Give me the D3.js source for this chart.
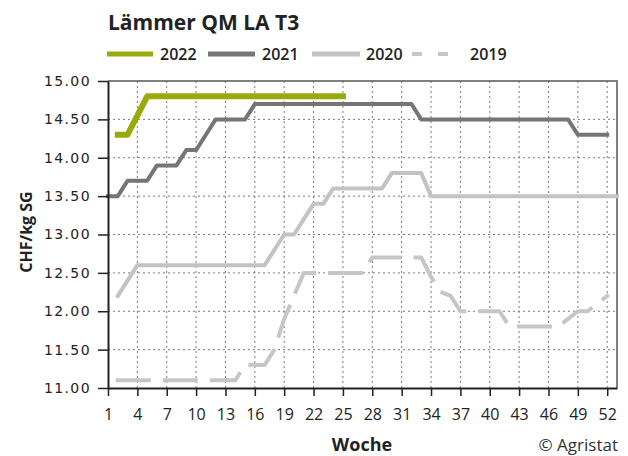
<!DOCTYPE html>
<html lang="de">
   <head>
      <meta charset="UTF-8">
      <title>Lämmer QM LA T3</title>
      <style>
         body { margin: 0; background: #fff; }
         text { font-family: "Open Sans", sans-serif; fill: #222; }
      </style>
   </head>
   <body>
      <svg width="628" height="456"></svg>
      <script src="https://d3js.org/d3.v7.min.js"></script>
      <script>
         // Wochenpreise CHF/kg SG, null = keine Notierung
         var v2022 = [null, 14.3, 14.3, 14.55, 14.8, 14.8, 14.8, 14.8, 14.8, 14.8,
                      14.8, 14.8, 14.8, 14.8, 14.8, 14.8, 14.8, 14.8, 14.8, 14.8,
                      14.8, 14.8, 14.8, 14.8, 14.8];
         var v2021 = [13.5, 13.5, 13.7, 13.7, 13.7, 13.9, 13.9, 13.9, 14.1, 14.1,
                      14.3, 14.5, 14.5, 14.5, 14.5, 14.7, 14.7, 14.7, 14.7, 14.7,
                      14.7, 14.7, 14.7, 14.7, 14.7, 14.7, 14.7, 14.7, 14.7, 14.7,
                      14.7, 14.7, 14.5, 14.5, 14.5, 14.5, 14.5, 14.5, 14.5, 14.5,
                      14.5, 14.5, 14.5, 14.5, 14.5, 14.5, 14.5, 14.5, 14.3, 14.3,
                      14.3, 14.3];
         var v2020 = [null, 12.2, 12.4, 12.6, 12.6, 12.6, 12.6, 12.6, 12.6, 12.6,
                      12.6, 12.6, 12.6, 12.6, 12.6, 12.6, 12.6, 12.8, 13.0, 13.0,
                      13.2, 13.4, 13.4, 13.6, 13.6, 13.6, 13.6, 13.6, 13.6, 13.8,
                      13.8, 13.8, 13.8, 13.5, 13.5, 13.5, 13.5, 13.5, 13.5, 13.5,
                      13.5, 13.5, 13.5, 13.5, 13.5, 13.5, 13.5, 13.5, 13.5, 13.5,
                      13.5, 13.5, 13.5];
         var v2019 = [null, 11.1, 11.1, 11.1, 11.1, 11.1, 11.1, 11.1, 11.1, 11.1,
                      11.1, 11.1, 11.1, 11.1, 11.3, 11.3, 11.3, 11.5, 11.9, 12.2,
                      12.5, 12.5, 12.5, 12.5, 12.5, 12.5, 12.5, 12.7, 12.7, 12.7,
                      12.7, 12.7, 12.7, 12.45, 12.25, 12.2, 12.0, 12.0, 12.0, 12.0,
                      12.0, 11.8, 11.8, 11.8, 11.8, 11.8, 11.8, 11.9, 12.0, 12.0,
                      12.1, 12.2];

         var xTicks = [1, 4, 7, 10, 13, 16, 19, 22, 25, 28, 31, 34, 37, 40, 43, 46, 49, 52];
         var yTicks = [11, 11.5, 12, 12.5, 13, 13.5, 14, 14.5, 15];

         var series = [
            {name: "2019", values: v2019, color: "#c6c6c6", width: 4, dash: "31,16"},
            {name: "2020", values: v2020, color: "#c3c3c3", width: 4, dash: null},
            {name: "2021", values: v2021, color: "#757575", width: 4, dash: null},
            {name: "2022", values: v2022, color: "#9aaa0c", width: 6, dash: null}
         ];

         var svg = d3.select("svg");
         var pLeft = 108, pRight = 617, pTop = 81, pBottom = 388;

         var x = d3.scaleLinear().domain([1, 53]).range([pLeft, pRight]);
         var y = d3.scaleLinear().domain([11, 15]).range([pBottom, pTop]);

         // Titel
         svg.append("text")
            .attr("x", 108).attr("y", 30)
            .style("font-size", "21px").style("font-weight", "bold")
            .text("Lämmer QM LA T3");

         // Legende
         var legend = [
            {name: "2022", color: "#9aaa0c", x1: 107, x2: 153, tx: 160, dash: null, w: 5},
            {name: "2021", color: "#757575", x1: 208, x2: 255, tx: 262, dash: null, w: 5},
            {name: "2020", color: "#c3c3c3", x1: 312, x2: 360, tx: 366, dash: null, w: 5},
            {name: "2019", color: "#c6c6c6", x1: 414, x2: 446, tx: 470, dash: "6,20", w: 4}
         ];
         var lg = svg.append("g").attr("class", "legend");
         lg.selectAll("line").data(legend).enter().append("line")
            .attr("x1", d => d.x1).attr("x2", d => d.x2)
            .attr("y1", 54).attr("y2", 54)
            .attr("stroke", d => d.color)
            .attr("stroke-width", d => d.w)
            .attr("stroke-linecap", d => d.dash ? "square" : "butt")
            .attr("stroke-dasharray", d => d.dash);
         lg.selectAll("text").data(legend).enter().append("text")
            .attr("x", d => d.tx).attr("y", 60)
            .style("font-size", "16px").style("font-weight", 600)
            .text(d => d.name);

         // Gitter
         var grid = svg.append("g").attr("class", "grid");
         grid.selectAll(".h").data(yTicks.filter(d => d > 11 && d < 15)).enter().append("line")
            .attr("x1", pLeft).attr("x2", pRight)
            .attr("y1", d => y(d)).attr("y2", d => y(d))
            .attr("stroke", "#7a7a7a").attr("stroke-dasharray", "2,3");
         grid.selectAll(".v").data(xTicks.filter(d => d > 1)).enter().append("line")
            .attr("x1", d => x(d)).attr("x2", d => x(d))
            .attr("y1", pTop).attr("y2", pBottom)
            .attr("stroke", "#7a7a7a").attr("stroke-dasharray", "2,3");

         // Rahmen oben / rechts
         svg.append("path")
            .attr("d", `M${pLeft},${pTop}H${pRight}V${pBottom}`)
            .attr("fill", "none").attr("stroke", "#555").attr("stroke-width", 1.5);

         // Linien
         var line = d3.line()
            .defined(d => d != null)
            .x((d, i) => x(i + 1))
            .y(d => y(d));

         svg.append("g").selectAll("path").data(series).enter().append("path")
            .attr("d", d => line(d.values))
            .attr("fill", "none")
            .attr("stroke", d => d.color)
            .attr("stroke-width", d => d.width)
            .attr("stroke-linecap", "square")
            .attr("stroke-linejoin", "round")
            .attr("stroke-dasharray", d => d.dash);

         // Achsen
         var yAxis = svg.append("g")
            .attr("transform", `translate(${pLeft},0)`)
            .call(d3.axisLeft(y).tickValues(yTicks).tickFormat(d3.format(".2f"))
               .tickSize(10).tickSizeOuter(0).tickPadding(7));
         yAxis.selectAll("text")
            .style("font-family", "'DejaVu Sans', sans-serif")
            .style("font-size", "14px").style("letter-spacing", "1.4px")
            .style("fill", "#222");

         var xAxis = svg.append("g")
            .attr("transform", `translate(0,${pBottom})`)
            .call(d3.axisBottom(x).tickValues(xTicks).tickFormat(d3.format("d"))
               .tickSize(8).tickSizeOuter(0).tickPadding(13));
         xAxis.selectAll("text")
            .style("font-size", "16px").style("fill", "#222");

         [yAxis, xAxis].forEach(function(a) {
            a.select(".domain").attr("stroke", "#222").attr("stroke-width", 2);
            a.selectAll(".tick line").attr("stroke", "#222").attr("stroke-width", 1.5);
         });

         // Achsentitel
         svg.append("text")
            .attr("transform", "translate(32,232) rotate(-90)")
            .attr("text-anchor", "middle")
            .style("font-size", "16px").style("font-weight", "bold")
            .text("CHF/kg SG");

         svg.append("text")
            .attr("x", 362).attr("y", 451)
            .attr("text-anchor", "middle")
            .style("font-size", "18px").style("font-weight", "bold")
            .text("Woche");

         svg.append("text")
            .attr("x", 618).attr("y", 451)
            .attr("text-anchor", "end")
            .style("font-size", "17px").style("fill", "#333")
            .text("© Agristat");
      </script>
   </body>
</html>
